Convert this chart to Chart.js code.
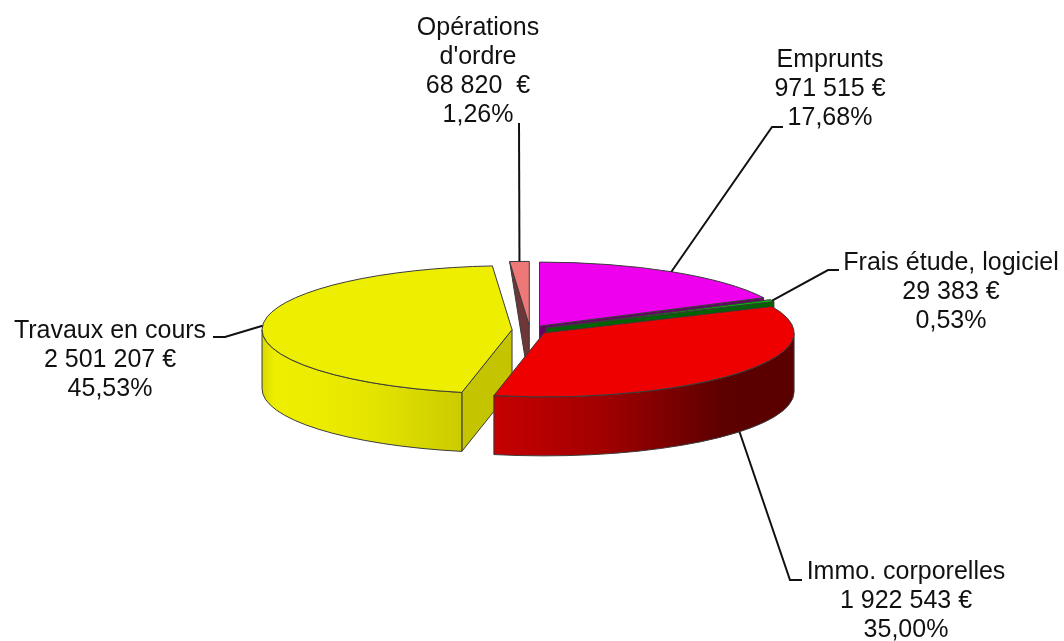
<!DOCTYPE html>
<html>
<head>
<meta charset="utf-8">
<style>html,body{margin:0;padding:0;background:#fff}canvas{display:block}</style>
<script src="https://cdn.jsdelivr.net/npm/chart.js@4"></script>
</head>
<body>
<canvas id="c" width="1064" height="641"></canvas>
<script>
// Data, clockwise from the top of the pie
const categories = ['Emprunts', 'Frais étude, logiciel', 'Immo. corporelles', 'Travaux en cours', "Opérations\nd'ordre"];
const amounts = [971515, 29383, 1922543, 2501207, 68820];
const amountLabels = ['971 515 €', '29 383 €', '1 922 543 €', '2 501 207 €', '68 820  €'];
const percentLabels = ['17,68%', '0,53%', '35,00%', '45,53%', '1,26%'];

// Styles
const topColors = ['#EE00EE', '#00BE00', '#EE0000', '#EEEE00', '#EE7878'];
const cutColors = ['#680068', '#006400', '#800000', '#C4C400', '#6E3636'];
const rimStops = [
  [[0, '#A000A0'], [1, '#600060']],
  [[0, '#006400'], [1, '#004000']],
  [[0, '#C60000'], [0.36, '#A20000'], [0.62, '#760000'], [0.76, '#5C0000'], [1, '#5A0000']],
  [[0, '#D8D800'], [0.06, '#EEEE00'], [0.3, '#ECEC00'], [0.6, '#E2E200'], [1, '#CBCB00']],
  [[0, '#6E3636'], [1, '#6E3636']]
];

// Projection and layout
const SQUASH = 0.256;
const DEPTH = 59;
const EXPLODE = 18;
const RADIUS = 250;
const FONT = '25px "Liberation Sans", Arial, sans-serif';
const LINE_HEIGHT = 29;
const EDGE = '#3a3a3a';
// leader: elbow point, end point, whether it starts at the bottom of the wall; text: centre x, first baseline
const labelLayout = [
  {elbow: [772, 127], end: [783, 127], low: false, x: 830, y: 67},
  {elbow: [828, 270], end: [839, 270], low: false, x: 951, y: 270},
  {elbow: [790, 580], end: [802, 580], low: true, x: 906, y: 579},
  {elbow: [225, 337], end: [213, 337], low: false, x: 110, y: 338},
  {elbow: [519, 123], end: [519, 123], low: false, x: 478, y: 35}
];

function rim(a, i) {
  return [a.x + a.outerRadius * Math.cos(i), a.y + a.outerRadius * SQUASH * Math.sin(i)];
}

function drawCutFace(ctx, a, angle, color, tapered) {
  const p = rim(a, angle);
  ctx.beginPath();
  ctx.moveTo(p[0], p[1]);
  ctx.lineTo(a.x, a.y);
  ctx.lineTo(a.x, a.y + DEPTH);
  if (!tapered) ctx.lineTo(p[0], p[1] + DEPTH);
  ctx.closePath();
  ctx.fillStyle = color;
  ctx.fill();
  ctx.stroke();
}

function drawRimWall(ctx, a, stops) {
  const TAU = Math.PI * 2;
  for (let k = -1; k <= 1; k++) {
    const from = Math.max(a.startAngle, k * TAU);
    const to = Math.min(a.endAngle, k * TAU + Math.PI);
    if (to <= from) continue;
    const xs = [];
    for (let t = 0; t <= 40; t++) xs.push(rim(a, from + (to - from) * t / 40)[0]);
    const g = ctx.createLinearGradient(Math.min(...xs), 0, Math.max(...xs), 0);
    stops.forEach(s => g.addColorStop(s[0], s[1]));
    ctx.beginPath();
    ctx.ellipse(a.x, a.y, a.outerRadius, a.outerRadius * SQUASH, 0, from, to, false);
    ctx.ellipse(a.x, a.y + DEPTH, a.outerRadius, a.outerRadius * SQUASH, 0, to, from, true);
    ctx.closePath();
    ctx.fillStyle = g;
    ctx.fill();
    ctx.stroke();
  }
}

const pie3d = {
  id: 'pie3d',
  afterDatasetUpdate(chart) {
    chart.getDatasetMeta(0).data.forEach(a => {
      const mid = (a.startAngle + a.endAngle) / 2;
      a.x += Math.cos(mid) * EXPLODE;
      a.y += Math.sin(mid) * EXPLODE * SQUASH;
    });
  },
  beforeDatasetsDraw(chart) {
    const ctx = chart.ctx;
    const arcs = chart.getDatasetMeta(0).data;
    const order = arcs.map((a, i) => i).sort((p, q) =>
      Math.sin((arcs[p].startAngle + arcs[p].endAngle) / 2) - Math.sin((arcs[q].startAngle + arcs[q].endAngle) / 2));
    ctx.save();
    ctx.lineWidth = 1;
    ctx.strokeStyle = EDGE;
    ctx.lineJoin = 'round';
    order.forEach(i => {
      const a = arcs[i];
      if (Math.cos(a.startAngle) < -1e-6) drawCutFace(ctx, a, a.startAngle, cutColors[i], Math.sin(a.startAngle) < 0);
      if (Math.cos(a.endAngle) > 1e-6) drawCutFace(ctx, a, a.endAngle, cutColors[i], false);
      drawRimWall(ctx, a, rimStops[i]);
    });
    ctx.restore();
    // top faces are drawn by the library inside this squashed space
    const cx = chart.chartArea.left + chart.chartArea.width / 2;
    const cy = chart.chartArea.top + chart.chartArea.height / 2;
    ctx.save();
    ctx.translate(cx, cy);
    ctx.scale(1, SQUASH);
    ctx.translate(-cx, -cy);
    // arcs keep their on-screen vertical position after the squash
    arcs.forEach(a => { a._screenY = a.y; a.y = cy + (a.y - cy) / SQUASH; });
  },
  afterDatasetsDraw(chart) {
    const ctx = chart.ctx;
    ctx.restore();
    const arcs = chart.getDatasetMeta(0).data;
    arcs.forEach(a => { a.y = a._screenY; });
    ctx.save();
    ctx.lineWidth = 1;
    ctx.strokeStyle = EDGE;
    ctx.lineJoin = 'round';
    arcs.forEach(a => {
      ctx.beginPath();
      ctx.moveTo(a.x, a.y);
      ctx.ellipse(a.x, a.y, a.outerRadius, a.outerRadius * SQUASH, 0, a.startAngle, a.endAngle, false);
      ctx.closePath();
      ctx.stroke();
    });
    // leader lines
    ctx.lineWidth = 2;
    ctx.strokeStyle = '#111';
    ctx.lineJoin = 'miter';
    arcs.forEach((a, i) => {
      const l = labelLayout[i];
      const p = rim(a, (a.startAngle + a.endAngle) / 2);
      ctx.beginPath();
      ctx.moveTo(p[0], p[1] + (l.low ? DEPTH : 0));
      ctx.lineTo(l.elbow[0], l.elbow[1]);
      ctx.lineTo(l.end[0], l.end[1]);
      ctx.stroke();
    });
    // labels
    ctx.font = FONT;
    ctx.fillStyle = '#111';
    ctx.textAlign = 'center';
    ctx.textBaseline = 'alphabetic';
    categories.forEach((name, i) => {
      const lines = name.split('\n').concat([amountLabels[i], percentLabels[i]]);
      lines.forEach((t, n) => ctx.fillText(t, labelLayout[i].x, labelLayout[i].y + n * LINE_HEIGHT));
    });
    ctx.restore();
  }
};

new Chart(document.getElementById('c'), {
  type: 'pie',
  data: {
    labels: categories.map(s => s.replace('\n', ' ')),
    datasets: [{
      data: amounts,
      backgroundColor: topColors,
      borderWidth: 0,
      radius: RADIUS,
      clip: false
    }]
  },
  options: {
    responsive: false,
    animation: false,
    events: [],
    layout: {padding: {left: 0, right: 4, top: 19, bottom: 0}},
    plugins: {legend: {display: false}, tooltip: {enabled: false}}
  },
  plugins: [pie3d]
});
</script>
</body>
</html>
